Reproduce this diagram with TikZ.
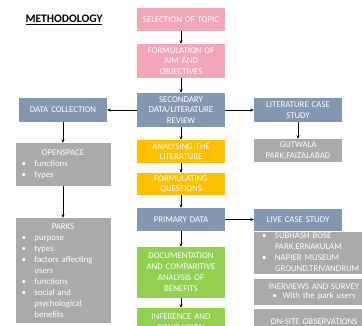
\documentclass[tikz,border=0pt]{standalone}
\usepackage{fontspec}
\setmainfont{Carlito}
\usetikzlibrary{arrows.meta}
\definecolor{topicpink}{HTML}{F4A6B9}
\definecolor{reviewblue}{HTML}{8497B0}
\definecolor{casegray}{HTML}{ABA9A9}
\definecolor{litorange}{HTML}{FFC000}
\definecolor{resultgreen}{HTML}{92D050}
% list lines inside the grey boxes
\newcommand\pnt[1]{\makebox[\hsize][l]{\makebox[13pt][l]{\textbullet}#1}}
\newcommand\cont[1]{\makebox[\hsize][l]{\hspace*{13pt}#1}}
\begin{document}
\begin{tikzpicture}[x=1pt,y=-1pt,
    every node/.style={font=\fontsize{8.8}{11}\selectfont},
    stagebox/.style={fill=#1,text=white,align=center,inner xsep=2pt,inner ysep=1pt,text width=84pt},
    listbox/.style={fill=casegray,text=white,align=center,inner xsep=6pt,inner ysep=1pt,text width=83pt},
    casebox/.style={fill=casegray,text=white,align=center,inner xsep=8pt,inner ysep=1pt,text width=104pt}]
  \useasboundingbox (0,0) rectangle (362,325);
  \draw
    (64,20) node[font=\fontsize{11.5}{13}\selectfont\bfseries] (title){\underline{METHODOLOGY}}
    (181,19.5) node[stagebox=topicpink,minimum height=23pt] (topic){SELECTION OF TOPIC}
    (181,61) node[stagebox=topicpink,minimum height=34pt,font=\fontsize{8.8}{10.5}\selectfont] (aim){FORMULATION OF\\AIM AND\\OBJECTIVES}
    (181,110) node[stagebox=reviewblue,minimum height=34pt,font=\fontsize{8.8}{10.5}\selectfont] (review){SECONDARY\\DATA/LITERATURE\\REVIEW}
    (63,110) node[stagebox=reviewblue,minimum height=24pt] (collection){DATA COLLECTION}
    (298,110) node[stagebox=reviewblue,minimum height=24pt,font=\fontsize{8.8}{10.5}\selectfont] (litcase){LITERATURE CASE\\STUDY}
    (298,150.5) node[stagebox=casegray,minimum height=23pt,font=\fontsize{8.8}{10.5}\selectfont] (gutwala){GUTWALA\\PARK,FAIZALABAD}
    (63,164.5) node[listbox,minimum height=43pt] (openspace){OPENSPACE\\\pnt{functions}\\\pnt{types}}
    (181,151.5) node[stagebox=litorange,minimum height=23pt,font=\fontsize{8.8}{10.5}\selectfont] (analysing){ANALYSING THE\\LITERATURE}
    (181,184) node[stagebox=litorange,minimum height=22pt,font=\fontsize{8.8}{10.5}\selectfont] (questions){FORMULATING\\QUESTIONS}
    (181,219.5) node[stagebox=reviewblue,minimum height=23pt] (primary){PRIMARY DATA}
    (298,219.5) node[stagebox=reviewblue,minimum height=22pt] (livecase){LIVE CASE STUDY}
    (63,270.5) node[listbox,minimum height=105pt] (parks){PARKS\\\pnt{purpose}\\\pnt{types}\\\pnt{factors affecting}\\\cont{users}\\\pnt{functions}\\\pnt{social and}\\\cont{psychological}\\\cont{benefits}}
    (181,272.5) node[stagebox=resultgreen,minimum height=51pt] (documentation){DOCUMENTATION\\AND COMPARITIVE\\ANALYSIS OF\\BENEFITS}
    (181,322) node[stagebox=resultgreen,minimum height=28pt] (inference){INFERENCE AND\\CONCLUSION}
    (314,253) node[casebox,minimum height=42pt] (sites){\pnt{SUBHASH BOSE}\\\cont{PARK,ERNAKULAM}\\\pnt{NAPIER MUSEUM}\\\cont{GROUND,TRIVANDRUM}}
    (314,292) node[casebox,minimum height=26pt,font=\fontsize{8.8}{9.5}\selectfont] (survey){INERVIEWS AND SURVEY\\\makebox[10pt][l]{\textbullet}With the park users}
    (314,322) node[casebox,minimum height=26pt] (onsite){ON-SITE OBSERVATIONS};
  \begin{scope}[-{Stealth[length=3.5pt,width=3pt]},line width=0.6pt]
    \draw (topic) to (aim);
    \draw (aim) to (review);
    \draw (review) to (collection);
    \draw (review) to (litcase);
    \draw (litcase) to (gutwala);
    \draw (collection) to (openspace);
    \draw (openspace) to (parks);
    \draw (review) to (analysing);
    \draw (analysing) to (questions);
    \draw (questions) to (primary);
    \draw (primary) to (documentation);
    \draw (documentation) to (inference);
    \draw (primary) to (livecase);
  \end{scope}
\end{tikzpicture}
\end{document}
